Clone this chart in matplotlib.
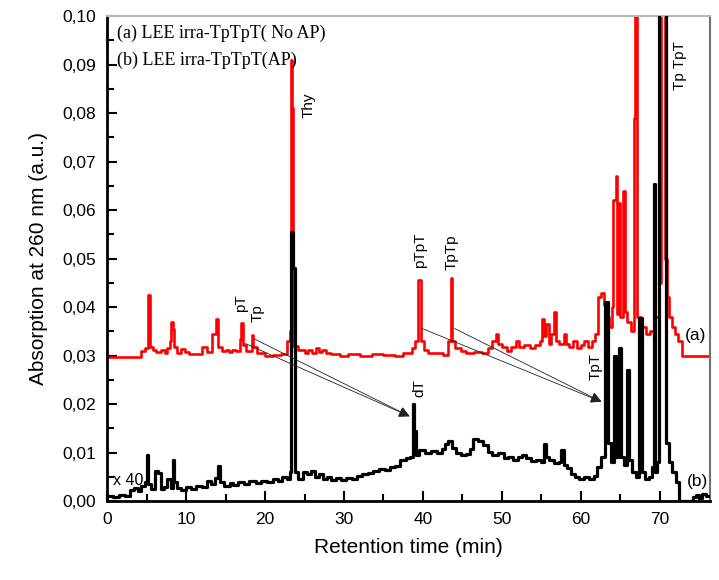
import numpy as np
import matplotlib
matplotlib.use('Agg')
import matplotlib.pyplot as plt
from matplotlib.ticker import MultipleLocator

plt.rcParams['font.family'] = ['Liberation Sans', 'DejaVu Sans']

# (a) LEE irra-TpTpT (No AP) -- red trace, step breakpoints (min, a.u.)
t_a = [0.0, 4.3, 4.8, 5.2, 5.4, 5.8, 6.2, 6.8, 7.3, 7.6, 7.9, 8.1, 8.3, 8.5, 8.8,
       9.3, 9.8, 10.4, 11.0, 12.0, 12.6, 13.3, 13.8, 14.1, 14.5, 15.0, 15.4, 15.8,
       16.3, 16.8, 17.0, 17.2, 17.6, 18.3, 18.5, 19.0, 20.0, 21.0, 22.0, 22.8, 23.1,
       23.3, 23.45, 23.6, 24.2, 25.0, 25.5, 26.0, 26.4, 26.8, 27.2, 27.7, 28.3, 29.5,
       30.5, 32.0, 33.5, 35.0, 36.5, 37.5, 38.6, 39.0, 39.4, 39.7, 40.1, 40.6, 41.5,
       42.6, 43.2, 43.5, 43.7, 44.1, 44.8, 45.5, 46.5, 47.5, 48.3, 48.8, 49.2, 49.5,
       50.0, 50.6, 51.2, 51.8, 52.2, 52.8, 53.5, 54.2, 54.8, 55.1, 55.3, 55.6, 55.9,
       56.2, 56.6, 56.8, 57.2, 57.8, 58.1, 58.5, 59.0, 59.5, 60.0, 60.4, 60.9, 61.4,
       61.8, 62.2, 62.6, 62.9, 63.2, 63.5, 63.9, 64.1, 64.4, 64.6, 64.7, 64.9, 65.3,
       65.6, 65.9, 66.3, 66.7, 66.9, 67.1, 67.6, 68.2, 68.8, 69.4, 69.9, 70.2, 70.6,
       70.9, 71.2, 71.5, 71.9, 72.3, 72.8, 76.5]
y_a = [0.0297, 0.0310, 0.0315, 0.0425, 0.0318, 0.0312, 0.0308, 0.0312, 0.0306, 0.0315,
       0.0330, 0.0370, 0.0355, 0.0318, 0.0305, 0.0313, 0.0308, 0.0303, 0.0303, 0.0318,
       0.0307, 0.0345, 0.0375, 0.0318, 0.0310, 0.0312, 0.0307, 0.0312, 0.0310, 0.0335,
       0.0368, 0.0322, 0.0310, 0.0343, 0.0318, 0.0305, 0.0300, 0.0302, 0.0303, 0.0330,
       0.0350, 0.0910, 0.0810, 0.0320, 0.0312, 0.0305, 0.0312, 0.0306, 0.0315, 0.0308,
       0.0312, 0.0306, 0.0303, 0.0300, 0.0304, 0.0300, 0.0304, 0.0302, 0.0300, 0.0305,
       0.0315, 0.0330, 0.0455, 0.0330, 0.0312, 0.0305, 0.0305, 0.0302, 0.0330, 0.0460,
       0.0330, 0.0315, 0.0310, 0.0305, 0.0308, 0.0305, 0.0315, 0.0330, 0.0345, 0.0325,
       0.0318, 0.0310, 0.0318, 0.0330, 0.0318, 0.0322, 0.0315, 0.0322, 0.0330, 0.0375,
       0.0340, 0.0365, 0.0325, 0.0345, 0.0390, 0.0330, 0.0325, 0.0345, 0.0325, 0.0318,
       0.0330, 0.0315, 0.0322, 0.0330, 0.0318, 0.0330, 0.0345, 0.0420, 0.0430, 0.0405,
       0.0380, 0.0360, 0.0400, 0.0620, 0.0670, 0.0385, 0.0615, 0.0380, 0.0640, 0.0390,
       0.0370, 0.0350, 0.0790, 0.1300, 0.0380, 0.0360, 0.0345, 0.0350, 0.0380, 0.0450,
       0.2000, 0.0500, 0.0420, 0.0380, 0.0360, 0.0345, 0.0330, 0.0300, 0.0300]

# (b) LEE irra-TpTpT (AP), x40 -- black trace
t_b = [0.0, 0.8, 1.5, 2.3, 2.9, 3.4, 3.9, 4.3, 4.8, 5.0, 5.2, 5.6, 6.0, 6.5, 6.8, 7.2,
       7.6, 8.1, 8.3, 8.5, 8.8, 9.3, 10.0, 10.6, 11.2, 12.0, 12.6, 13.2, 13.7, 14.0,
       14.3, 14.8, 15.5, 16.0, 16.6, 17.3, 18.0, 18.8, 19.5, 20.2, 21.0, 21.6, 22.2,
       22.8, 23.1, 23.3, 23.6, 23.8, 24.2, 24.8, 25.3, 25.8, 26.3, 26.8, 27.3, 27.8,
       28.4, 29.0, 29.6, 30.2, 31.0, 31.6, 32.3, 33.0, 33.7, 34.4, 35.2, 35.8, 36.5,
       37.1, 37.8, 38.4, 38.7, 38.9, 39.1, 39.5, 40.2, 41.0, 41.8, 42.4, 42.8, 43.2,
       43.7, 44.2, 44.8, 45.4, 46.0, 46.4, 47.0, 47.6, 48.2, 48.8, 49.5, 50.2, 50.8,
       51.4, 52.0, 52.6, 53.1, 53.7, 54.3, 54.9, 55.3, 55.6, 56.0, 56.6, 57.2, 57.5,
       57.8, 58.3, 58.7, 59.2, 59.8, 60.4, 61.0, 61.6, 62.0, 62.6, 63.1, 63.4, 63.8,
       64.2, 64.5, 64.8, 65.1, 65.5, 65.8, 66.1, 66.5, 67.0, 67.4, 67.7, 68.1, 68.6,
       69.0, 69.2, 69.4, 69.7, 69.9, 70.8, 71.2, 71.6, 72.1, 72.4, 74.2, 74.6, 75.0,
       75.4, 75.8, 76.5]
y_b = [0.0010, 0.0008, 0.0012, 0.0010, 0.0022, 0.0028, 0.0020, 0.0032, 0.0040, 0.0095,
       0.0035, 0.0025, 0.0062, 0.0058, 0.0025, 0.0030, 0.0045, 0.0028, 0.0085, 0.0040,
       0.0028, 0.0022, 0.0030, 0.0026, 0.0032, 0.0030, 0.0042, 0.0035, 0.0048, 0.0072,
       0.0040, 0.0032, 0.0038, 0.0034, 0.0040, 0.0036, 0.0042, 0.0038, 0.0042, 0.0040,
       0.0045, 0.0042, 0.0050, 0.0046, 0.0060, 0.0555, 0.0480, 0.0060, 0.0045, 0.0060,
       0.0055, 0.0062, 0.0050, 0.0055, 0.0045, 0.0050, 0.0044, 0.0048, 0.0043, 0.0048,
       0.0045, 0.0052, 0.0056, 0.0058, 0.0062, 0.0066, 0.0064, 0.0070, 0.0072, 0.0085,
       0.0088, 0.0090, 0.0200, 0.0145, 0.0095, 0.0105, 0.0100, 0.0104, 0.0100, 0.0108,
       0.0118, 0.0125, 0.0110, 0.0100, 0.0095, 0.0098, 0.0108, 0.0128, 0.0125, 0.0115,
       0.0102, 0.0095, 0.0100, 0.0088, 0.0092, 0.0084, 0.0090, 0.0096, 0.0088, 0.0082,
       0.0085, 0.0080, 0.0118, 0.0090, 0.0085, 0.0078, 0.0080, 0.0105, 0.0075, 0.0068,
       0.0055, 0.0050, 0.0045, 0.0050, 0.0046, 0.0052, 0.0070, 0.0090, 0.0410, 0.0120,
       0.0080, 0.0300, 0.0090, 0.0315, 0.0090, 0.0075, 0.0270, 0.0085, 0.0060, 0.0050,
       0.0378, 0.0060, 0.0045, 0.0050, 0.0070, 0.0655, 0.0060, 0.0080, 0.2000, 0.0120,
       0.0080, 0.0060, 0.0040, 0.0000, 0.0008, 0.0012, 0.0006, 0.0015, 0.0010, 0.0010]

# peak labels: (text, x, y bottom)
peak_labels = [('pT', 17.0, 0.0390), ('Tp', 19.0, 0.0370), ('Thy', 25.5, 0.0790),
               ('pTpT', 39.6, 0.0480), ('TpTp', 43.6, 0.0476), ('dT', 39.5, 0.0215),
               ('TpT', 61.85, 0.0250), ('Tp TpT', 72.6, 0.0847)]
# arrows: (start x, start y, end x, end y)
arrows = [(17.5, 0.0325, 38.3, 0.0175), (18.7, 0.0334, 38.3, 0.0175),
          (39.9, 0.0356, 62.6, 0.0205), (44.0, 0.0356, 62.6, 0.0205)]

yticks = [0.00, 0.01, 0.02, 0.03, 0.04, 0.05, 0.06, 0.07, 0.08, 0.09, 0.10]
ytick_labels = ['0,00', '0,01', '0,02', '0,03', '0,04', '0,05', '0,06', '0,07',
                '0,08', '0,09', '0,10']
xticks = [0, 10, 20, 30, 40, 50, 60, 70]

fig = plt.figure(figsize=(7.19, 5.80), dpi=100)
ax = fig.add_axes([0.149, 0.136, 0.839, 0.836])

ax.plot(t_a, y_a, drawstyle='steps-post', color='#ff0000', lw=1.9, zorder=2)
ax.plot(t_b, y_b, drawstyle='steps-post', color='black', lw=2.3, zorder=3)

for txt, x, y in peak_labels:
    ax.text(x, y, txt, rotation=90, ha='center', va='bottom', fontsize=11, zorder=5)

for x0, y0, x1, y1 in arrows:
    ax.annotate('', xy=(x1, y1), xytext=(x0, y0),
                arrowprops=dict(arrowstyle='-|>', color='#222222', lw=0.6,
                                mutation_scale=16, shrinkA=0, shrinkB=0), zorder=4)

ax.text(74.5, 0.0342, '(a)', ha='center', va='center', fontsize=12.5)
ax.text(74.8, 0.0040, '(b)', ha='center', va='center', fontsize=12.5)
ax.text(2.7, 0.0043, 'x 40', ha='center', va='center', fontsize=11.5, zorder=6)

ax.text(1.2, 0.0965, '(a) LEE irra-TpTpT( No AP)', ha='left', va='center',
        fontsize=13, family='Liberation Serif')
ax.text(1.2, 0.0909, '(b) LEE irra-TpTpT(AP)', ha='left', va='center',
        fontsize=13, family='Liberation Serif')

ax.set_xlim(0, 76.4)
ax.set_ylim(0, 0.1)
ax.set_xticks(xticks)
ax.xaxis.set_minor_locator(MultipleLocator(5))
ax.set_yticks(yticks)
ax.set_yticklabels(ytick_labels)
ax.yaxis.set_minor_locator(MultipleLocator(0.005))
ax.tick_params(which='both', direction='in', width=1.5, labelsize=12.5)
ax.tick_params(which='major', length=7)
ax.tick_params(which='minor', length=5)
ax.tick_params(axis='y', pad=8)
ax.tick_params(axis='x', pad=8)

ax.spines['left'].set_linewidth(2)
ax.spines['bottom'].set_linewidth(2)
ax.spines['top'].set_color('#b5b5b5')
ax.spines['top'].set_linewidth(1.5)
ax.spines['right'].set_color('#707070')
ax.spines['right'].set_linewidth(1.5)

ax.set_xlabel('Retention time (min)', fontsize=15, labelpad=8)
ax.set_ylabel('Absorption at 260 nm (a.u.)', fontsize=15, labelpad=10)

plt.savefig('out.png', dpi=100, facecolor='white')
plt.close()
